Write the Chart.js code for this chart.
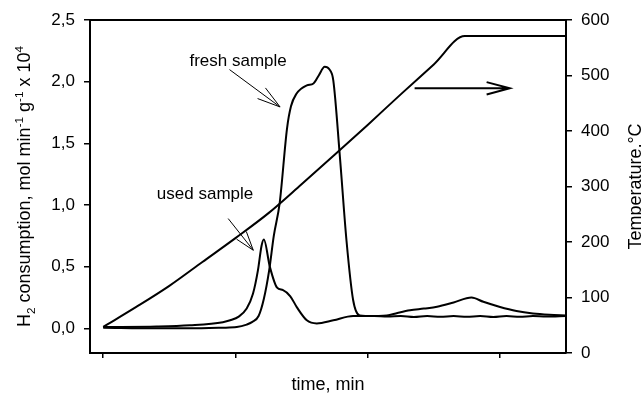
<!DOCTYPE html>
<html>
<head>
<meta charset="utf-8">
<script src="https://cdn.jsdelivr.net/npm/chart.js@4"></script>
<style>
  body { margin: 0; background: #fff; }
  #wrap { width: 641px; height: 397px; }
</style>
</head>
<body>
<div id="wrap"><canvas id="chart"></canvas></div>
<script>
// Temperature programme (right axis, °C)
const timeTemp = [0, 5, 10, 15, 20, 25, 30, 35, 40, 45, 50, 54.7, 70];
const temp = [47, 83, 121, 164, 207, 252, 304, 357, 411, 466, 520, 571, 571];

// H2 consumption, fresh sample (left axis)
const timeFresh = [0, 8, 13, 18, 20.2, 21.7, 22.5, 23.5, 24.3, 25.1, 25.8, 26.7, 27.8, 28.4, 29.2,
  30.8, 31.8, 32.6, 33.5, 34.2, 34.8, 35.8, 36.8, 37.8, 38.8, 41, 43, 45, 47, 49, 51, 53, 55,
  57, 59, 61, 63, 65, 67, 70];
const fresh = [0.005, 0, 0, 0.005, 0.01, 0.03, 0.05, 0.1, 0.24, 0.47, 0.75, 1.02, 1.62, 1.8, 1.9,
  1.97, 1.985, 2.05, 2.12, 2.1, 2.01, 1.39, 0.71, 0.23, 0.105, 0.1, 0.095, 0.1, 0.092, 0.1, 0.093,
  0.1, 0.093, 0.1, 0.092, 0.1, 0.093, 0.1, 0.095, 0.1];

// H2 consumption, used sample (left axis)
const timeUsed = [0, 8.1, 13.1, 18.1, 19.2, 20.5, 21.7, 22.65, 23.4, 23.95, 24.3, 25.2, 26.3, 27.2,
  28.3, 29.3, 30.8, 32.3, 34.8, 37.8, 40, 42.9, 44.5, 46.4, 48.5, 50.5, 53, 55.7, 57.5, 59.9, 62.5,
  65, 67.5, 70];
const used = [0.01, 0.015, 0.025, 0.05, 0.065, 0.095, 0.16, 0.28, 0.47, 0.67, 0.72, 0.5, 0.33, 0.31,
  0.26, 0.17, 0.065, 0.04, 0.065, 0.1, 0.1, 0.105, 0.125, 0.146, 0.16, 0.175, 0.21, 0.25, 0.215,
  0.175, 0.14, 0.12, 0.11, 0.105];

const xTicks = [0, 20, 40, 60];

// annotations, in data units (time, left axis value)
const notes = [
  { text: "fresh sample", t: 20.4, v: 2.165 },
  { text: "used sample", t: 15.4, v: 1.09 }
];
const arrows = [
  { from: [19.1, 2.098], to: [26.75, 1.795], head: 24, angle: 16, width: 1 },
  { from: [18.9, 0.89], to: [22.7, 0.633], head: 20, angle: 18, width: 1 },
  { from: [47.1, 1.946], to: [61.5, 1.946], head: 24, angle: 15, width: 2 }
];

const toPoints = (xs, ys) => xs.map((x, i) => ({ x: x, y: ys[i] }));
const FONT = "'Liberation Sans', Arial, sans-serif";

function drawArrow(ctx, x1, y1, x2, y2, head, angle, width) {
  const a = Math.atan2(y2 - y1, x2 - x1);
  const h = angle * Math.PI / 180;
  ctx.save();
  ctx.strokeStyle = "#000";
  ctx.lineWidth = width;
  ctx.beginPath();
  ctx.moveTo(x1, y1);
  ctx.lineTo(x2, y2);
  ctx.moveTo(x2 - head * Math.cos(a - h), y2 - head * Math.sin(a - h));
  ctx.lineTo(x2, y2);
  ctx.lineTo(x2 - head * Math.cos(a + h), y2 - head * Math.sin(a + h));
  ctx.stroke();
  ctx.restore();
}

// text pieces: [text, shift] (shift: 0 normal, 1 sub, -1 sup)
function drawRich(ctx, parts, size) {
  let total = 0;
  parts.forEach(p => {
    ctx.font = (p[1] ? size * 0.65 : size) + "px " + FONT;
    total += ctx.measureText(p[0]).width;
  });
  let x = -total / 2;
  parts.forEach(p => {
    ctx.font = (p[1] ? size * 0.65 : size) + "px " + FONT;
    const dy = p[1] === 1 ? 5 : p[1] === -1 ? -7 : 0;
    ctx.fillText(p[0], x, dy);
    x += ctx.measureText(p[0]).width;
  });
}

const extras = {
  id: "extras",
  afterDraw(chart) {
    const { ctx, chartArea: a, scales } = chart;
    const px = t => scales.x.getPixelForValue(t);
    const py = v => scales.y.getPixelForValue(v);

    ctx.save();
    // top of the frame
    ctx.strokeStyle = "#000";
    ctx.lineWidth = 2;
    ctx.beginPath();
    ctx.moveTo(a.left - 1, a.top);
    ctx.lineTo(a.right + 1, a.top);
    ctx.stroke();

    ctx.fillStyle = "#000";
    ctx.textAlign = "center";
    ctx.textBaseline = "middle";
    ctx.font = "17px " + FONT;
    notes.forEach(n => ctx.fillText(n.text, px(n.t), py(n.v)));
    arrows.forEach(r => drawArrow(ctx, px(r.from[0]), py(r.from[1]), px(r.to[0]), py(r.to[1]),
      r.head, r.angle, r.width));

    // axis titles
    ctx.font = "18px " + FONT;
    ctx.textBaseline = "middle";
    ctx.fillText("time, min", (a.left + a.right) / 2, 385);

    ctx.textAlign = "left";
    ctx.textBaseline = "alphabetic";
    ctx.save();
    ctx.translate(30, (a.top + a.bottom) / 2);
    ctx.rotate(-Math.PI / 2);
    drawRich(ctx, [["H", 0], ["2", 1], [" consumption, mol min", 0], ["-1", -1], [" g", 0], ["-1", -1],
      [" x 10", 0], ["4", -1]], 18);
    ctx.restore();

    ctx.save();
    ctx.translate(641, (a.top + a.bottom) / 2);
    ctx.rotate(-Math.PI / 2);
    ctx.font = "18px " + FONT;
    ctx.textAlign = "center";
    ctx.fillText("Temperature,°C", 0, 0);
    ctx.restore();
    ctx.restore();
  }
};

const line = { borderColor: "#000", borderWidth: 2, pointRadius: 0, fill: false,
  cubicInterpolationMode: "monotone" };

new Chart(document.getElementById("chart"), {
  type: "line",
  data: {
    datasets: [
      { ...line, label: "fresh sample", data: toPoints(timeFresh, fresh), yAxisID: "y" },
      { ...line, label: "used sample", data: toPoints(timeUsed, used), yAxisID: "y" },
      { ...line, label: "temperature", data: toPoints(timeTemp, temp), yAxisID: "y2" }
    ]
  },
  options: {
    responsive: true,
    maintainAspectRatio: false,
    animation: false,
    layout: { padding: { top: 20, left: 0, right: 0, bottom: 0 } },
    plugins: { legend: { display: false }, tooltip: { enabled: false } },
    scales: {
      x: {
        type: "linear",
        min: -2,
        max: 70,
        ticks: { stepSize: 20, callback: () => "" },
        grid: { drawOnChartArea: false, tickLength: 5, color: "#000", lineWidth: 1.5 },
        border: { color: "#000", width: 2 },
        afterBuildTicks: s => { s.ticks = xTicks.map(v => ({ value: v })); },
        afterFit: s => { s.height = 44; }
      },
      y: {
        position: "left",
        min: -0.2,
        max: 2.5,
        ticks: {
          stepSize: 0.5,
          color: "#000",
          padding: 9,
          font: { family: FONT, size: 17 },
          callback: v => v.toFixed(1).replace(".", ",")
        },
        grid: { drawOnChartArea: false, tickLength: 6, color: "#000", lineWidth: 1.5 },
        border: { color: "#000", width: 2 },
        afterBuildTicks: s => { s.ticks = s.ticks.filter(t => t.value >= 0); },
        afterFit: s => { s.width = 90; }
      },
      y2: {
        position: "right",
        min: 0,
        max: 600,
        ticks: {
          stepSize: 100,
          color: "#000",
          padding: 9,
          font: { family: FONT, size: 17 }
        },
        grid: { drawOnChartArea: false, tickLength: 6, color: "#000", lineWidth: 1.5 },
        border: { color: "#000", width: 2 },
        afterFit: s => { s.width = 75; }
      }
    }
  },
  plugins: [extras]
});
</script>
</body>
</html>
